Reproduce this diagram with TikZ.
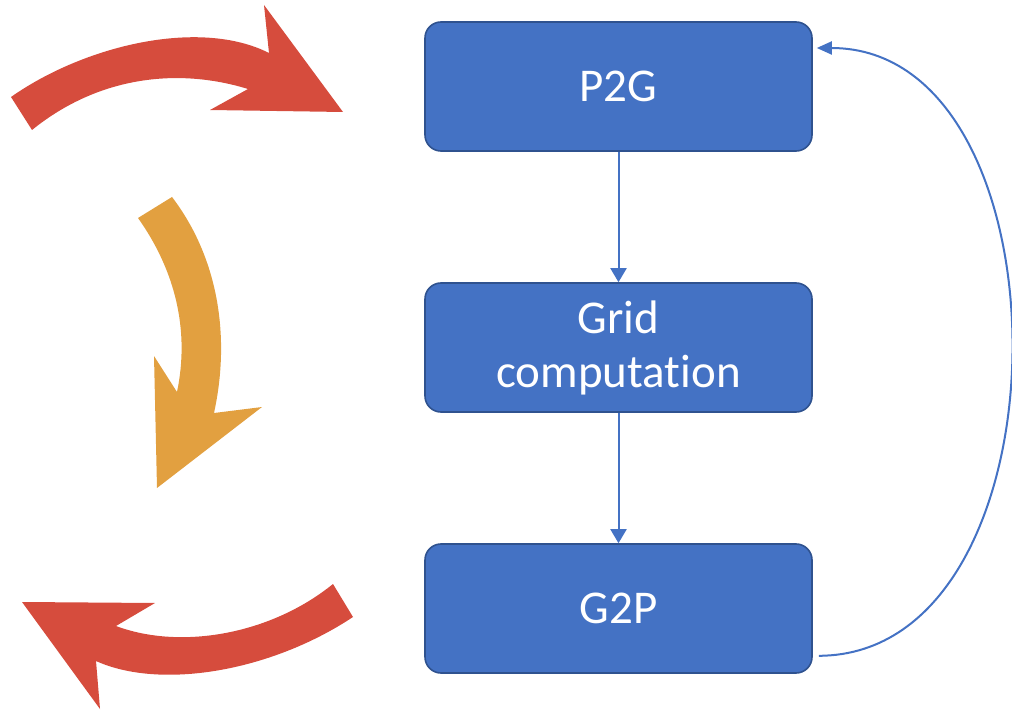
\documentclass[tikz,border=0pt]{standalone}
\usepackage{fontspec}
\setmainfont{Carlito}[Ligatures=NoCommon]
\usetikzlibrary{arrows.meta,calc}

\definecolor{boxfill}{HTML}{4472C4}
\definecolor{boxline}{HTML}{2F528F}
\definecolor{flowblue}{HTML}{4472C4}
\definecolor{cyclered}{HTML}{D64C3D}
\definecolor{cycleorange}{HTML}{E2A040}

\tikzset{
  stage/.style={draw=boxline, line width=1.6pt, fill=boxfill, rounded corners=16pt,
    minimum width=387pt, minimum height=129pt, inner sep=0pt, align=center,
    text=white, font=\fontsize{47}{57}\selectfont},
  flow/.style={draw=flowblue, line width=2pt, -{Triangle[length=14pt,width=16pt]}},
  loopback/.style={draw=flowblue, line width=2pt, -{Triangle[length=15pt,width=13pt]}},
}

\begin{document}
\begin{tikzpicture}[x=1pt, y=-1pt]
  \useasboundingbox (0,0) rectangle (1012,711);

  % pipeline stages
  \node[stage] (p2g)  at (618.5,86.5)  {P2G};
  \node[stage] (grid) at (618.5,347.5) {\raisebox{-3pt}{Grid}\\computation};
  \node[stage] (g2p)  at (618.5,608.5) {G2P};

  % straight connectors between stages
  \draw[flow] (p2g.south)  -- (grid.north);
  \draw[flow] (grid.south) -- (g2p.north);

  % loop from the last stage back to the first one
  \coordinate (loopA) at ([xshift=6pt,yshift=18pt]g2p.south east);
  \coordinate (loopB) at ([xshift=4pt,yshift=38.5pt]p2g.east);
  \draw[loopback] (loopA) .. controls (1075,655) and (1075,48) .. (loopB);

  % curved block arrow, top (pointing right)
  \fill[cyclered]
    (11,97) .. controls (85,45) and (200,18) .. (269,53)
    -- (264,5) -- (343,112) -- (210,110) -- (248,89)
    .. controls (180,68) and (100,75) .. (32,130) -- cycle;

  % curved block arrow, middle (pointing down)
  \fill[cycleorange]
    (138,218) .. controls (175,270) and (190,330) .. (177,392)
    -- (154,356) -- (157,488) -- (262,407) -- (214,413)
    .. controls (230,340) and (220,260) .. (172,197) -- cycle;

  % curved block arrow, bottom (pointing left)
  \fill[cyclered]
    (333,584) .. controls (270,635) and (180,650) .. (116,626)
    -- (155,603) -- (22,602) -- (100,709) -- (96,661)
    .. controls (160,690) and (270,672) .. (353,617) -- cycle;
\end{tikzpicture}
\end{document}
